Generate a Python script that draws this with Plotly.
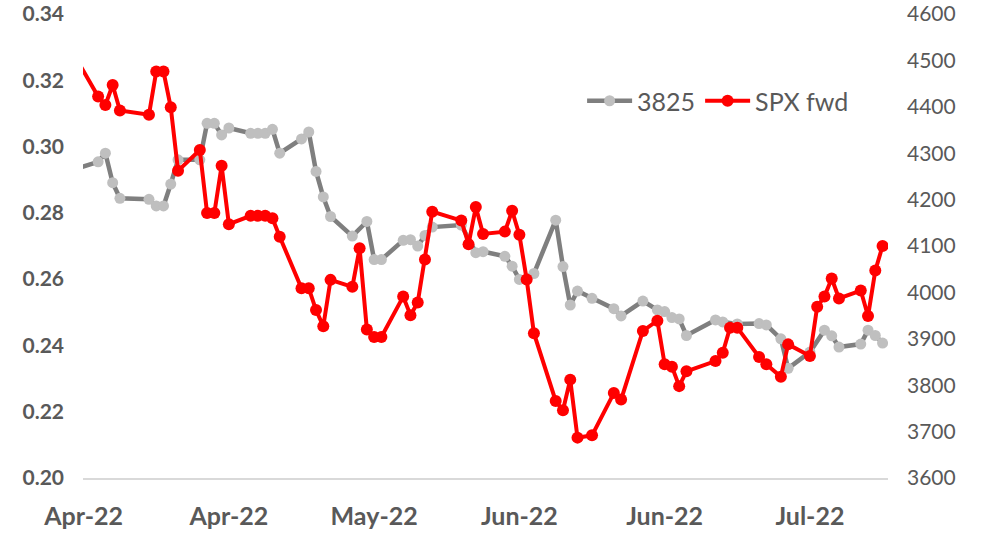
import pandas as pd
import plotly.graph_objects as go

# 3825 series (left axis)
dates_3825 = [
    "2022-04-08", "2022-04-11", "2022-04-12", "2022-04-13", "2022-04-14",
    "2022-04-18", "2022-04-19", "2022-04-20", "2022-04-21", "2022-04-22",
    "2022-04-25", "2022-04-26", "2022-04-27", "2022-04-28", "2022-04-29",
    "2022-05-02", "2022-05-03", "2022-05-04", "2022-05-05", "2022-05-06",
    "2022-05-09", "2022-05-10", "2022-05-11", "2022-05-12", "2022-05-13",
    "2022-05-16", "2022-05-18", "2022-05-19", "2022-05-20",
    "2022-05-23", "2022-05-24", "2022-05-25", "2022-05-26", "2022-05-27",
    "2022-05-31", "2022-06-02", "2022-06-03",
    "2022-06-06", "2022-06-07", "2022-06-08", "2022-06-10",
    "2022-06-13", "2022-06-14", "2022-06-15", "2022-06-16", "2022-06-18",
    "2022-06-21", "2022-06-22", "2022-06-25",
    "2022-06-27", "2022-06-28", "2022-06-29", "2022-06-30", "2022-07-01",
    "2022-07-05", "2022-07-06", "2022-07-08",
    "2022-07-11", "2022-07-12", "2022-07-14", "2022-07-15",
    "2022-07-18", "2022-07-20", "2022-07-21", "2022-07-22",
    "2022-07-25", "2022-07-26", "2022-07-27", "2022-07-28",
]
vals_3825 = [
    0.2933, 0.2954, 0.2980, 0.2891, 0.2844,
    0.2841, 0.2821, 0.2821, 0.2887, 0.2960,
    0.2960, 0.3070, 0.3070, 0.3035, 0.3056,
    0.3040, 0.3040, 0.3040, 0.3052, 0.2980,
    0.3023, 0.3044, 0.2925, 0.2848, 0.2789,
    0.2730, 0.2774, 0.2659, 0.2659,
    0.2717, 0.2719, 0.2700, 0.2732, 0.2757,
    0.2763, 0.2680, 0.2683,
    0.2669, 0.2639, 0.2599, 0.2617,
    0.2778, 0.2638, 0.2522, 0.2564, 0.2542,
    0.2511, 0.2489, 0.2534,
    0.2507, 0.2502, 0.2484, 0.2480, 0.2430,
    0.2477, 0.2471, 0.2465,
    0.2466, 0.2462, 0.2420, 0.2331,
    0.2380, 0.2446, 0.2429, 0.2395,
    0.2404, 0.2446, 0.2430, 0.2407,
]

# SPX fwd series (right axis)
dates_spx = [
    "2022-04-08", "2022-04-11", "2022-04-12", "2022-04-13", "2022-04-14",
    "2022-04-18", "2022-04-19", "2022-04-20", "2022-04-21", "2022-04-22",
    "2022-04-25", "2022-04-26", "2022-04-27", "2022-04-28", "2022-04-29",
    "2022-05-02", "2022-05-03", "2022-05-04", "2022-05-05", "2022-05-06",
    "2022-05-09", "2022-05-10", "2022-05-11", "2022-05-12", "2022-05-13",
    "2022-05-16", "2022-05-17", "2022-05-18", "2022-05-19", "2022-05-20",
    "2022-05-23", "2022-05-24", "2022-05-25", "2022-05-26", "2022-05-27",
    "2022-05-31", "2022-06-01", "2022-06-02", "2022-06-03",
    "2022-06-06", "2022-06-07", "2022-06-08", "2022-06-09", "2022-06-10",
    "2022-06-13", "2022-06-14", "2022-06-15", "2022-06-16", "2022-06-18",
    "2022-06-21", "2022-06-22", "2022-06-25",
    "2022-06-27", "2022-06-28", "2022-06-29", "2022-06-30", "2022-07-01",
    "2022-07-05", "2022-07-06", "2022-07-07", "2022-07-08",
    "2022-07-11", "2022-07-12", "2022-07-14", "2022-07-15",
    "2022-07-18", "2022-07-19", "2022-07-20", "2022-07-21", "2022-07-22",
    "2022-07-25", "2022-07-26", "2022-07-27", "2022-07-28",
]
vals_spx = [
    4504, 4422, 4404, 4447, 4392,
    4383, 4476, 4476, 4399, 4262,
    4307, 4171, 4171, 4273, 4147,
    4165, 4165, 4165, 4160, 4120,
    4009, 4009, 3962, 3927, 4027,
    4012, 4095, 3920, 3904, 3904,
    3991, 3951, 3978, 4071, 4174,
    4155, 4104, 4184, 4126,
    4131, 4176, 4124, 4028, 3912,
    3766, 3746, 3812, 3687, 3692,
    3783, 3769, 3917,
    3939, 3845, 3840, 3798, 3830,
    3852, 3870, 3924, 3924,
    3861, 3845, 3818, 3888,
    3863, 3969, 3991, 4030, 3987,
    4004, 3949, 4047, 4100,
]

tick_dates = ["2022-04-09", "2022-04-29", "2022-05-19", "2022-06-08", "2022-06-28", "2022-07-18"]

FONT = "Lato"
TXT = "#595959"

fig = go.Figure()

fig.add_trace(go.Scatter(
    x=pd.to_datetime(dates_3825), y=vals_3825, name="3825",
    mode="lines+markers",
    line=dict(color="#7F7F7F", width=4.5),
    marker=dict(color="#BFBFBF", size=11),
))
fig.add_trace(go.Scatter(
    x=pd.to_datetime(dates_spx), y=vals_spx, name="SPX fwd", yaxis="y2",
    mode="lines+markers",
    line=dict(color="#FF0000", width=4),
    marker=dict(color="#FF0000", size=12),
))

x0 = pd.Timestamp(tick_dates[0]) - pd.Timedelta(hours=2)
x1 = pd.Timestamp("2022-07-28") + pd.Timedelta(hours=18)

fig.update_layout(
    width=985, height=553,
    margin=dict(l=83, r=97, t=14, b=75),
    plot_bgcolor="white", paper_bgcolor="white",
    font=dict(family=FONT, color=TXT),
    xaxis=dict(
        type="date", range=[x0, x1], automargin=False,
        tickvals=pd.to_datetime(tick_dates), tickformat="%b-%y",
        tickfont=dict(size=25, color=TXT, weight="bold"),
        showgrid=False, zeroline=False,
        showline=True, linecolor="#D9D9D9", linewidth=1.5,
        ticks="", ticklabelstandoff=15,
    ),
    yaxis=dict(
        range=[0.20, 0.34], dtick=0.02, tickformat=".2f", automargin=False,
        tickfont=dict(size=21, color=TXT, weight="bold"),
        showgrid=False, zeroline=False, showline=False,
        ticks="", ticklabelstandoff=18, ticklabeloverflow="allow",
    ),
    yaxis2=dict(
        range=[3600, 4600], dtick=100, overlaying="y", side="right",
        automargin=False,
        tickfont=dict(size=21, color=TXT),
        showgrid=False, zeroline=False, showline=False,
        ticks="", ticklabelstandoff=18, ticklabeloverflow="allow",
    ),
    legend=dict(
        orientation="h", x=0.62, xanchor="left", y=0.8125, yanchor="middle",
        font=dict(size=25, color=TXT), bgcolor="rgba(0,0,0,0)",
        itemwidth=45,
    ),
)

# drop the default body margin so the figure sits at the window's corner
fig.write_html("out.html", config={"displayModeBar": False},
               post_script="document.body.style.margin='0';")
